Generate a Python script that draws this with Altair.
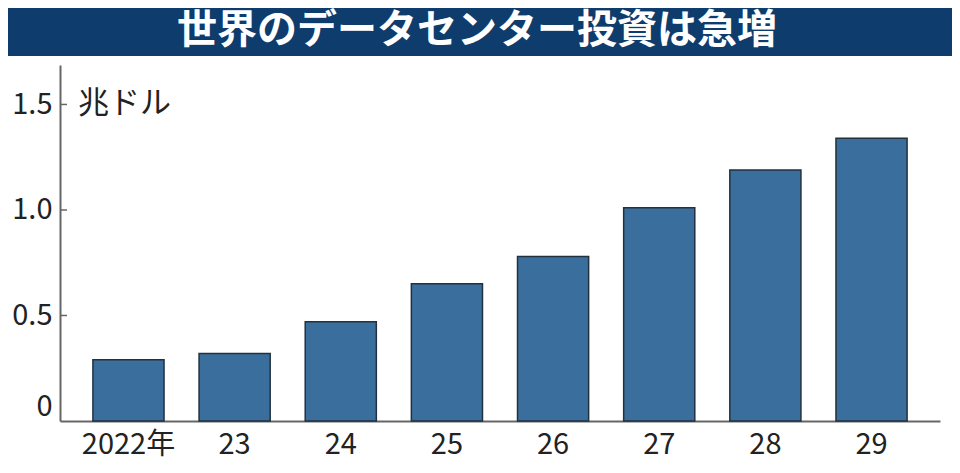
import altair as alt
import pandas as pd

years = ["2022年", "23", "24", "25", "26", "27", "28", "29"]
values = [0.29, 0.32, 0.47, 0.65, 0.78, 1.01, 1.19, 1.34]
tick_values = [0.5, 1.0, 1.5]
title_text = "世界のデータセンター投資は急増"
unit_text = "兆ドル"

FONT = "Noto Sans CJK JP"
df = pd.DataFrame({"year": years, "value": values})
ticks_df = pd.DataFrame({"value": tick_values})
one = pd.DataFrame({"t": [title_text]})
unit_df = pd.DataFrame({"t": [unit_text], "value": [1.5]})

yscale = alt.Scale(domain=[0, 1.687], nice=False, zero=True)

bars = alt.Chart(df).mark_bar(
    color="#3a6f9d", stroke="#22313f", strokeWidth=1.5
).encode(
    x=alt.X("year:N", sort=years, title=None,
            scale=alt.Scale(paddingInner=0.33, paddingOuter=0.31),
            axis=alt.Axis(ticks=False, labelAngle=0, labelFont=FONT, labelFontSize=29,
                          labelColor="#222222", labelPadding=9, domainColor="#666666",
                          domainWidth=2, grid=False)),
    y=alt.Y("value:Q", scale=yscale, title=None,
            axis=alt.Axis(values=[0, 0.5, 1.0, 1.5], ticks=False, grid=False,
                          labelExpr="datum.value == 0 ? '0' : format(datum.value, '.1f')",
                          labelFont=FONT, labelFontSize=29, labelColor="#222222",
                          labelPadding=8, labelFlush=True, domainColor="#666666",
                          domainWidth=2)),
)

tick_rules = alt.Chart(ticks_df).mark_rule(color="#666666", strokeWidth=1.5).encode(
    x=alt.value(0), x2=alt.value(7), y=alt.Y("value:Q", scale=yscale)
)

unit = alt.Chart(unit_df).mark_text(
    font=FONT, fontSize=31, color="#222222", align="left", baseline="middle"
).encode(x=alt.value(18), y=alt.Y("value:Q", scale=yscale), text="t:N")

banner = alt.Chart(one).mark_rect(color="#0d3c6d").encode(
    x=alt.value(-60), x2=alt.value(900), y=alt.value(-64), y2=alt.value(-9)
)
title = alt.Chart(one).mark_text(
    font=FONT, fontSize=40, fontWeight="bold", color="white",
    align="center", baseline="middle"
).encode(x=alt.value(417), y=alt.value(-34), text="t:N")

chart = alt.layer(banner, title, bars, tick_rules, unit).properties(
    width=880, height=356,
    autosize=alt.AutoSizeParams(type="none"),
    padding={"left": 52, "top": 57, "right": 12, "bottom": 44},
).configure_view(stroke=None)

chart.save("out.html", embed_options={"renderer": "svg", "actions": False})
